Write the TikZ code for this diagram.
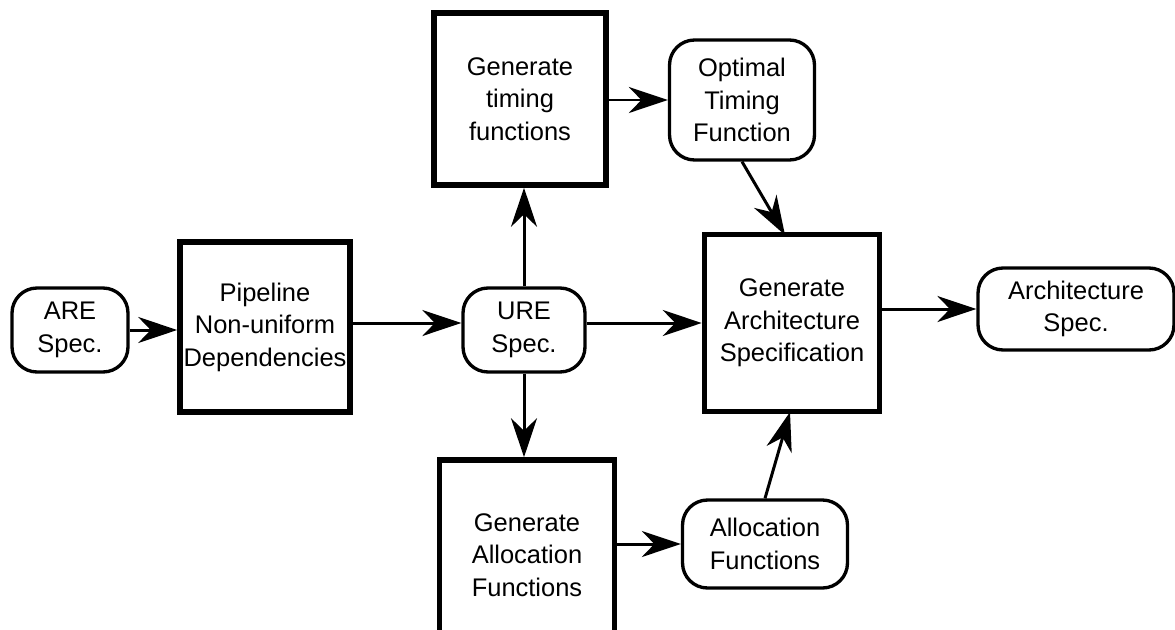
\documentclass[tikz,border=0pt]{standalone}
\usepackage{fontspec}
\setmainfont{Liberation Sans}
\usetikzlibrary{arrows.meta}

\begin{document}
\begin{tikzpicture}[x=0.02cm, y=-0.02cm,
    every node/.style={align=center, font=\fontsize{14.5}{18.5}\selectfont, inner sep=0pt},
    procbox/.style={draw, line width=3.2pt, rectangle},
    databox/.style={draw, line width=1.9pt, rectangle, rounded corners=0.5cm},
    arr/.style={line width=1.7pt, -{Stealth[length=7.8mm, width=5.2mm, inset=2.5mm]}}]
				\clip (0,0) rectangle (1175,629);
				\fill[white] (0,0) rectangle (1175,629);
				
				% data
				\node[databox, minimum width=2.32cm, minimum height=1.68cm] (are) at (70,330) {ARE\\Spec.};
				\node[databox, minimum width=2.44cm, minimum height=1.68cm] (ure) at (524,330) {URE\\Spec.};
				\node[databox, minimum width=2.9cm, minimum height=2.4cm] (optimal) at (742,100) {Optimal\\Timing\\Function};
				\node[databox, minimum width=3.3cm, minimum height=1.76cm] (allocf) at (765,544) {Allocation\\Functions};
				\node[databox, minimum width=3.92cm, minimum height=1.64cm] (archspec) at (1076,309) {Architecture\\Spec.};
				
				% processes
				\node[procbox, minimum width=3.4cm, minimum height=3.4cm] (pipe) at (265,327) {Pipeline\\Non-uniform\\Dependencies};
				\node[procbox, minimum width=3.44cm, minimum height=3.44cm] (timing) at (520,99) {Generate\\timing\\functions};
				\node[procbox, minimum width=3.5cm, minimum height=3.54cm] (arch) at (792,323) {Generate\\Architecture\\Specification};
				\node[procbox, minimum width=3.5cm, minimum height=3.8cm] (alloc) at (527,555) {Generate\\Allocation\\Functions};
				
				% flow
				\draw[arr] (are.east) -- (pipe.west |- are.east);
				\draw[arr] (pipe.east |- 0,323) -- (ure.west |- 0,323);
				\draw[arr] (ure.east |- 0,323) -- (arch.west |- 0,323);
				\draw[arr] (ure.north) -- (ure.north |- timing.south);
				\draw[arr] (ure.south) -- (ure.south |- alloc.north);
				\draw[arr] (timing.east |- optimal.west) -- (optimal.west);
				\draw[arr] (optimal.south) -- (785,235);
				\draw[arr] (alloc.east |- allocf.west) -- (allocf.west);
				\draw[arr] (allocf.north) -- (790,412);
				\draw[arr] (arch.east |- archspec.west) -- (archspec.west);
			\end{tikzpicture}
\end{document}
